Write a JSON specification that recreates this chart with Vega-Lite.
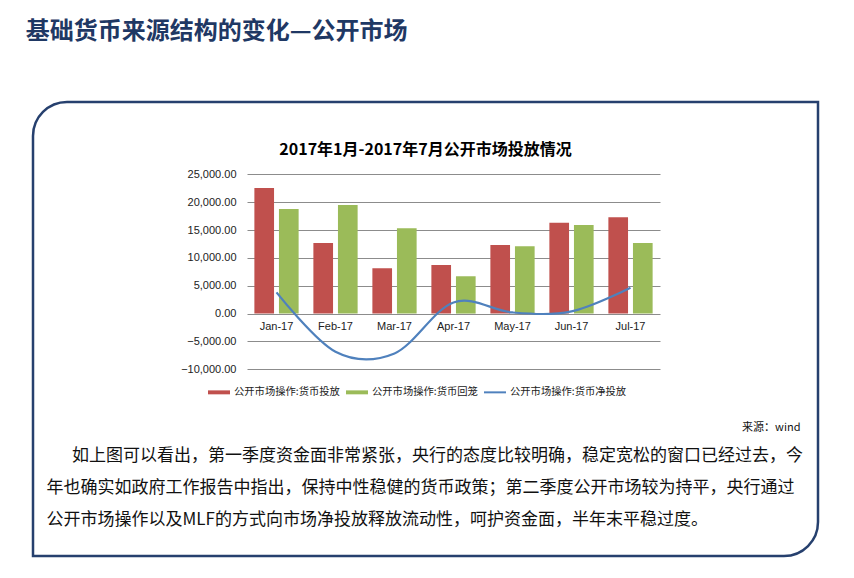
{
  "$schema": "https://vega.github.io/schema/vega-lite/v6.json",
  "background": "white",
  "padding": {"left": 25, "top": 19, "right": 0, "bottom": 0},
  "title": {
    "text": "基础货币来源结构的变化—公开市场",
    "anchor": "start",
    "font": "Noto Sans CJK SC",
    "fontSize": 24,
    "fontWeight": "bold",
    "color": "#1F3864",
    "offset": 57,
    "dx": -6
  },
  "vconcat": [
    {
      "width": 785,
      "height": 454,
      "title": {
        "text": "2017年1月-2017年7月公开市场投放情况",
        "font": "Noto Sans CJK SC",
        "fontSize": 16,
        "fontWeight": "bold",
        "color": "black",
        "anchor": "middle",
        "offset": -56
      },
      "data": {
        "values": [
          {"month": "Jan-17", "series": "公开市场操作:货币投放", "value": 22550},
          {"month": "Jan-17", "series": "公开市场操作:货币回笼", "value": 18750},
          {"month": "Jan-17", "series": "公开市场操作:货币净投放", "value": 3800},
          {"month": "Feb-17", "series": "公开市场操作:货币投放", "value": 12650},
          {"month": "Feb-17", "series": "公开市场操作:货币回笼", "value": 19500},
          {"month": "Feb-17", "series": "公开市场操作:货币净投放", "value": -6850},
          {"month": "Mar-17", "series": "公开市场操作:货币投放", "value": 8150},
          {"month": "Mar-17", "series": "公开市场操作:货币回笼", "value": 15300},
          {"month": "Mar-17", "series": "公开市场操作:货币净投放", "value": -7150},
          {"month": "Apr-17", "series": "公开市场操作:货币投放", "value": 8700},
          {"month": "Apr-17", "series": "公开市场操作:货币回笼", "value": 6700},
          {"month": "Apr-17", "series": "公开市场操作:货币净投放", "value": 2000},
          {"month": "May-17", "series": "公开市场操作:货币投放", "value": 12300},
          {"month": "May-17", "series": "公开市场操作:货币回笼", "value": 12100},
          {"month": "May-17", "series": "公开市场操作:货币净投放", "value": 200},
          {"month": "Jun-17", "series": "公开市场操作:货币投放", "value": 16300},
          {"month": "Jun-17", "series": "公开市场操作:货币回笼", "value": 15900},
          {"month": "Jun-17", "series": "公开市场操作:货币净投放", "value": 400},
          {"month": "Jul-17", "series": "公开市场操作:货币投放", "value": 17300},
          {"month": "Jul-17", "series": "公开市场操作:货币回笼", "value": 12650},
          {"month": "Jul-17", "series": "公开市场操作:货币净投放", "value": 4650}
        ]
      },
      "encoding": {
        "x": {
          "field": "month",
          "type": "nominal",
          "sort": ["Jan-17", "Feb-17", "Mar-17", "Apr-17", "May-17", "Jun-17", "Jul-17"],
          "scale": {"range": [214, 627], "paddingInner": 0.25, "paddingOuter": 0.125},
          "axis": {
            "title": [
              "\u200b\u3000\u2002如上图可以看出，第一季度资金面非常紧张，央行的态度比较明确，稳定宽松的窗口已经过去，今",
              "年也确实如政府工作报告中指出，保持中性稳健的货币政策；第二季度公开市场较为持平，央行通过",
              "公开市场操作以及MLF的方式向市场净投放释放流动性，呵护资金面，半年末平稳过度。"
            ],
            "titleFont": "Noto Sans CJK SC",
            "titleFontSize": 17,
            "titleFontWeight": "normal",
            "titleColor": "#111111",
            "titleAnchor": "start",
            "titleAlign": "left",
            "titleBaseline": "top",
            "titleX": 13,
            "titleY": 134,
            "titleLineHeight": 32,
            "labelFont": "Liberation Sans",
            "labelFontSize": 11,
            "labelColor": "#222222",
            "labelAngle": 0,
            "labelPadding": 7,
            "ticks": false,
            "domain": false,
            "grid": false,
            "offset": -242.4
          }
        },
        "y": {
          "field": "value",
          "type": "quantitative",
          "scale": {"domain": [-10000, 25000], "range": [267.3, 72.3], "nice": false},
          "axis": {
            "title": "来源：wind",
            "titleFont": "Noto Sans CJK SC",
            "titleFontSize": 11,
            "titleFontWeight": "normal",
            "titleColor": "#111111",
            "titleAngle": 0,
            "titleAlign": "right",
            "titleBaseline": "middle",
            "titleX": 553,
            "titleY": 325,
            "values": [-10000, -5000, 0, 5000, 10000, 15000, 20000, 25000],
            "format": ",.2f",
            "labelFont": "Liberation Sans",
            "labelFontSize": 11,
            "labelColor": "#222222",
            "labelPadding": 11,
            "ticks": false,
            "domain": false,
            "grid": true,
            "gridColor": "#8C8C8C",
            "gridWidth": 1,
            "offset": -214
          }
        },
        "color": {
          "field": "series",
          "type": "nominal",
          "scale": {
            "domain": ["公开市场操作:货币投放", "公开市场操作:货币回笼", "公开市场操作:货币净投放"],
            "range": ["#C0504D", "#9BBB59", "#4F81BD"]
          },
          "legend": {
            "orient": "none",
            "legendX": 175,
            "legendY": 279,
            "direction": "horizontal",
            "title": null,
            "labelFont": "Noto Sans CJK SC",
            "labelFontSize": 10.3,
            "labelColor": "#222222",
            "labelOffset": 4,
            "columnPadding": 6,
            "symbolSize": 484,
            "symbolStrokeWidth": 0,
            "symbolOpacity": 1,
            "symbolType": "M-1,-0.18H1V0.18H-1Z",
            "encode": {
              "symbols": {
                "update": {
                  "shape": {"signal": "datum.value === '公开市场操作:货币净投放' ? 'M-1,-0.09H1V0.09H-1Z' : 'M-1,-0.18H1V0.18H-1Z'"},
                  "fill": {"scale": "color", "field": "value"},
                  "strokeWidth": {"value": 0}
                }
              }
            }
          }
        }
      },
      "layer": [
        {
          "transform": [{"filter": "datum.series !== '公开市场操作:货币净投放'"}],
          "mark": {"type": "bar"},
          "encoding": {
            "xOffset": {
              "field": "series",
              "type": "nominal",
              "sort": ["公开市场操作:货币投放", "公开市场操作:货币回笼"],
              "scale": {"paddingInner": 0.2}
            }
          }
        },
        {
          "transform": [{"filter": "datum.series === '公开市场操作:货币净投放'"}],
          "mark": {"type": "line", "interpolate": "cardinal", "strokeWidth": 2.2}
        }
      ]
    }
  ],
  "config": {
    "view": {"stroke": "#26406E", "strokeWidth": 2.5},
    "style": {"cell": {"cornerRadiusTopLeft": 34, "cornerRadiusBottomRight": 34}}
  }
}
